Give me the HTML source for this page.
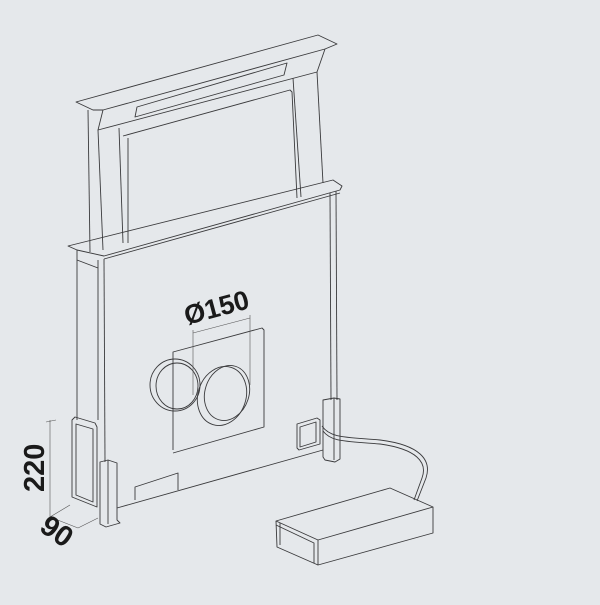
<!DOCTYPE html>
<html><head><style>html,body{margin:0;padding:0;background:#e5e8eb}</style></head>
<body>
<svg width="600" height="600" viewBox="0 0 600 600" xmlns="http://www.w3.org/2000/svg">
<rect width="600" height="600" fill="#e5e8eb"/>
<g fill="none" stroke="#3a3a3c" stroke-width="0.9" stroke-linejoin="round">
<path d="M76,102 L318,35 L337,44 L325,49 L103,110 L93,110 Z"/>
<path d="M103,110 L98,130 L317,72 L325,49"/>
<path d="M137,107 L287,63 L284,75 L135,117 Z"/>
<path d="M98,130 L103,250"/>
<path d="M88,110 L90,252"/>
<path d="M119,128 L123,243"/>
<path d="M293,78 L301,197"/>
<path d="M317,72 L323,183"/>
<path d="M123,136 L290,90 L292,92 L297,198"/>
<path d="M128,138 L128,243"/>
<path d="M68,246 L333,180 L342,186 L340,190 L104,256 L77,250 Z"/>
<path d="M104,259 L340,193"/>
<path d="M77,250 L77,420"/>
<path d="M98,260 L98,420"/>
<path d="M104,259 L105,462"/>
<path d="M77,260 L98,268"/>
<path d="M330,193 L331,400"/>
<path d="M336,191 L337,400"/>
<path d="M72,420 L75,417 L95,423 L97,427 L97,507 L72,497 Z"/>
<path d="M76,424 L93,429 L93,502 L76,495 Z"/>
<path d="M100,462 L108,460 L117,463 L117,520 L120,523 L106,527 L100,524 Z"/>
<path d="M108,460 L108,524"/>
<path d="M117,508 L323,450"/>
<path d="M135,500 L135,487 L178,473 L178,490"/>
<path d="M173,450 L173,352 L262,328 L264,330 L264,427 L173,453"/>
<ellipse cx="175" cy="385" rx="25" ry="26"/>
<ellipse cx="177" cy="386" rx="21" ry="23"/>
<ellipse cx="222" cy="396" rx="24" ry="30" transform="rotate(18 222 396)"/>
<ellipse cx="227" cy="393" rx="22" ry="28" transform="rotate(18 227 393)"/>
<g stroke-width="0.6" stroke="#555">
<path d="M193,333 L250,318"/>
<path d="M193,330 L193,395"/>
<path d="M250,315 L250,385"/>
<path d="M50,420 L50,517"/>
<path d="M46,422 L56,420"/>
<path d="M50,517 L78,528"/>
<path d="M50,517 L70,505"/>
<path d="M78,528 L98,518"/>
</g>
<path d="M323,400 L334,398 L340,399 L340,459 L335,462 L325,460 L323,457 Z"/>
<path d="M334,398 L334,460"/>
<path d="M297,424 L317,418 L320,420 L320,444 L299,450 L297,448 Z"/>
<path d="M300,427 L316,422 L316,442 L300,447 Z"/>
<path d="M322,426 C330,438 345,437 380,440 C420,445 432,460 426,478 L417,501"/>
<path d="M323,431 C331,442 345,441 380,444 C416,449 428,462 422,478 L414,500"/>
<path d="M276,521 L390,488 L433,507 L318,540 Z"/>
<path d="M433,507 L433,533 L318,565 L318,540"/>
<path d="M276,521 L277,547 L318,565"/>
<path d="M280,523 L280,545"/>
<path d="M276,525 L314,543 L314,563"/>
</g>
<g font-family="Liberation Sans, sans-serif" font-weight="bold" fill="#1a1a1a">
<text x="0" y="0" font-size="27" transform="translate(187,325) rotate(-15)">Ø150</text>
<text x="0" y="0" font-size="29" transform="translate(44,492) rotate(-90)">220</text>
<text x="0" y="0" font-size="29" transform="translate(38,530) rotate(35)">90</text>
</g>
</svg>
</body></html>
